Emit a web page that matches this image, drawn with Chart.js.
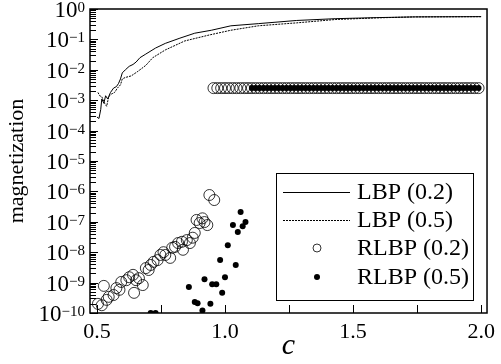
<!DOCTYPE html>
<html>
<head>
<meta charset="utf-8">
<script src="https://cdn.jsdelivr.net/npm/chart.js@4.4.0/dist/chart.umd.min.js"></script>
<style>
  html, body { margin: 0; padding: 0; background: #fff; }
</style>
</head>
<body>
<canvas id="chart" width="501" height="364"></canvas>
<script>
// LBP (0.2) - solid line
const lbp02C = [0.5, 0.508, 0.515, 0.519, 0.527, 0.534, 0.542, 0.553, 0.565, 0.576, 0.584, 0.592, 0.599, 0.611, 0.626, 0.641, 0.653, 0.668, 0.691, 0.729, 0.767, 0.824, 0.882, 0.947, 1.023, 1.13, 1.28, 1.43, 1.59, 1.74, 2.0];
const lbp02M = [2.8e-4, 2.5e-4, 5.0e-4, 1.1e-3, 7.9e-4, 1.4e-3, 1.1e-3, 1.8e-3, 2.5e-3, 2.8e-3, 3.5e-3, 5.0e-3, 7.9e-3, 1.0e-2, 1.3e-2, 1.5e-2, 1.8e-2, 2.5e-2, 3.3e-2, 5.2e-2, 7.4e-2, 0.11, 0.16, 0.20, 0.28, 0.33, 0.42, 0.48, 0.52, 0.55, 0.56];

// LBP (0.5) - dotted line
const lbp05C = [0.504, 0.511, 0.519, 0.53, 0.538, 0.546, 0.557, 0.569, 0.58, 0.592, 0.599, 0.611, 0.634, 0.66, 0.691, 0.718, 0.767, 0.843, 0.939, 1.023, 1.13, 1.28, 1.43, 1.59, 1.74, 2.0];
const lbp05M = [1.8e-3, 1.4e-3, 1.3e-3, 7.9e-4, 6.3e-4, 1.3e-3, 1.6e-3, 1.8e-3, 2.5e-3, 3.2e-3, 5.0e-3, 5.6e-3, 6.3e-3, 8.9e-3, 1.4e-2, 2.5e-2, 4.5e-2, 8.9e-2, 0.14, 0.20, 0.28, 0.35, 0.45, 0.51, 0.55, 0.56];

// RLBP (0.2) - open circles, scattered part
const rlbp02C = [0.504, 0.519, 0.527, 0.538, 0.546, 0.565, 0.576, 0.588, 0.595, 0.615, 0.626, 0.641, 0.645, 0.653, 0.664, 0.679, 0.691, 0.702, 0.710, 0.721, 0.737, 0.748, 0.760, 0.767, 0.786, 0.794, 0.805, 0.817, 0.832, 0.836, 0.851, 0.863, 0.874, 0.882, 0.889, 0.901, 0.912, 0.920, 0.931, 0.939, 0.958];
const rlbp02M = [2.0e-10, 1.8e-10, 7.8e-10, 2.7e-10, 3.4e-10, 3.9e-10, 6.6e-10, 5.8e-10, 1.05e-9, 1.2e-9, 1.5e-9, 1.8e-9, 4.6e-10, 1.2e-9, 1.4e-9, 8.3e-10, 3.0e-9, 2.6e-9, 3.8e-9, 4.8e-9, 5.5e-9, 8.1e-9, 1.0e-8, 8.1e-9, 6.5e-9, 1.4e-8, 1.5e-8, 2.0e-8, 2.2e-8, 1.2e-8, 2.5e-8, 2.0e-8, 3.0e-8, 4.3e-8, 1.15e-7, 9.1e-8, 1.3e-7, 9.8e-8, 7.8e-8, 7.6e-7, 5.2e-7];

// RLBP (0.5) - filled dots, scattered part
const rlbp05C = [0.710, 0.729, 0.859, 0.882, 0.893, 0.912, 0.920, 0.943, 0.950, 0.966, 0.981, 0.989, 1.000, 1.011, 1.031, 1.042, 1.050, 1.061, 1.069, 1.080];
const rlbp05M = [1.0e-10, 1.0e-10, 7.2e-10, 2.3e-10, 2.1e-10, 1.2e-10, 1.3e-9, 2.0e-10, 8.9e-10, 8.9e-10, 5.5e-9, 4.6e-10, 1.5e-9, 1.7e-8, 7.8e-8, 3.8e-9, 4.6e-8, 2.1e-7, 7.2e-8, 9.8e-8];

// plateau reached by both RLBP runs
const plateauC = [0.955, 0.97, 0.985, 1.0, 1.015, 1.03, 1.045, 1.06, 1.075, 1.09, 1.105, 1.12, 1.135, 1.15, 1.165, 1.18, 1.195, 1.21, 1.225, 1.24, 1.255, 1.27, 1.285, 1.3, 1.315, 1.33, 1.345, 1.36, 1.375, 1.39, 1.405, 1.42, 1.435, 1.45, 1.465, 1.48, 1.495, 1.51, 1.525, 1.54, 1.555, 1.57, 1.585, 1.6, 1.615, 1.63, 1.645, 1.66, 1.675, 1.69, 1.705, 1.72, 1.735, 1.75, 1.765, 1.78, 1.795, 1.81, 1.825, 1.84, 1.855, 1.87, 1.885, 1.9, 1.915, 1.93, 1.945, 1.96, 1.975, 1.99];
const plateauLevel = 2.5e-3;
const plateau05Start = 1.1;

const xTicks = [0.5, 0.75, 1.0, 1.25, 1.5, 1.75, 2.0];
const yExponents = [0, -1, -2, -3, -4, -5, -6, -7, -8, -9, -10];

const serif = "'Liberation Serif', 'Times New Roman', serif";

function pts(cs, ms) {
  return cs.map((c, i) => ({ x: c, y: ms[i] }));
}

const rlbp02Pts = pts(rlbp02C, rlbp02M).concat(plateauC.map(c => ({ x: c, y: plateauLevel })));
const rlbp05Pts = pts(rlbp05C, rlbp05M).concat(plateauC.filter(c => c >= plateau05Start).map(c => ({ x: c, y: plateauLevel })));

const legendItems = [
  { label: 'LBP (0.2)', kind: 'line', dash: [] },
  { label: 'LBP (0.5)', kind: 'line', dash: [2, 1] },
  { label: 'RLBP (0.2)', kind: 'open' },
  { label: 'RLBP (0.5)', kind: 'dot' }
];

const decorations = {
  id: 'decorations',
  afterDraw(chart) {
    const ctx = chart.ctx;
    const a = chart.chartArea;
    const x = chart.scales.x, y = chart.scales.y;
    ctx.save();
    ctx.strokeStyle = '#000';
    ctx.fillStyle = '#000';

    // inward ticks
    ctx.lineWidth = 1;
    ctx.beginPath();
    xTicks.forEach(v => {
      const px = Math.round(x.getPixelForValue(v)) + 0.5;
      ctx.moveTo(px, a.bottom);
      ctx.lineTo(px, a.bottom - 8);
    });
    yExponents.forEach(e => {
      for (let m = 1; m < 10; m++) {
        const v = m * Math.pow(10, e);
        if (v > 1.0001) break;
        const py = Math.round(y.getPixelForValue(v)) + 0.5;
        ctx.moveTo(a.left, py);
        ctx.lineTo(a.left + (m === 1 ? 8 : 6), py);
      }
    });
    ctx.stroke();

    // frame
    ctx.lineWidth = 1.5;
    ctx.strokeRect(a.left, a.top, a.right - a.left, a.bottom - a.top);

    // y tick labels 10^n
    ctx.textAlign = 'left';
    ctx.textBaseline = 'alphabetic';
    yExponents.forEach(e => {
      const py = y.getPixelForValue(Math.pow(10, e));
      const expText = e === 0 ? '0' : '\u2212' + Math.abs(e);
      ctx.font = '15px ' + serif;
      const ew = ctx.measureText(expText).width;
      ctx.font = '23px ' + serif;
      const bw = ctx.measureText('10').width;
      const right = a.left - 5;
      ctx.fillText('10', right - ew - bw, py + 8);
      ctx.font = '15px ' + serif;
      ctx.fillText(expText, right - ew, py + 3);
    });

    // legend
    const lx = a.left + 186, ly = a.top + 164, lw = 197, lh = 127;
    ctx.fillStyle = '#fff';
    ctx.fillRect(lx, ly, lw, lh);
    ctx.lineWidth = 1;
    ctx.strokeRect(lx + 0.5, ly + 0.5, lw, lh);
    const rows = [19, 47, 75, 104];
    ctx.font = '24px ' + serif;
    ctx.textBaseline = 'middle';
    legendItems.forEach((it, i) => {
      const ry = ly + rows[i];
      ctx.strokeStyle = '#000';
      ctx.fillStyle = '#000';
      if (it.kind === 'line') {
        ctx.lineWidth = 1;
        ctx.setLineDash(it.dash);
        ctx.beginPath();
        ctx.moveTo(lx + 7, ry + 0.5);
        ctx.lineTo(lx + 74, ry + 0.5);
        ctx.stroke();
        ctx.setLineDash([]);
      } else if (it.kind === 'open') {
        ctx.lineWidth = 0.8;
        ctx.beginPath();
        ctx.arc(lx + 41, ry, 4, 0, Math.PI * 2);
        ctx.stroke();
      } else {
        ctx.beginPath();
        ctx.arc(lx + 41, ry, 3, 0, Math.PI * 2);
        ctx.fill();
      }
      ctx.fillText(it.label, lx + 81, ry + 1);
    });
    ctx.restore();
  }
};

const ctx = document.getElementById('chart').getContext('2d');
new Chart(ctx, {
  type: 'scatter',
  data: {
    datasets: [
      {
        label: 'RLBP (0.5)',
        data: rlbp05Pts,
        pointRadius: 3,
        pointBorderWidth: 0,
        pointBackgroundColor: '#000',
        order: 0
      },
      {
        label: 'RLBP (0.2)',
        data: rlbp02Pts,
        pointRadius: 5.5,
        pointBorderWidth: 0.8,
        pointBorderColor: '#000',
        pointBackgroundColor: 'rgba(0,0,0,0)',
        order: 1
      },
      {
        label: 'LBP (0.2)',
        data: pts(lbp02C, lbp02M),
        showLine: true,
        pointRadius: 0,
        borderColor: '#000',
        borderWidth: 1,
        order: 2
      },
      {
        label: 'LBP (0.5)',
        data: pts(lbp05C, lbp05M),
        showLine: true,
        pointRadius: 0,
        borderColor: '#000',
        borderWidth: 1,
        borderDash: [2, 1],
        order: 3
      }
    ]
  },
  options: {
    responsive: false,
    animation: false,
    events: [],
    layout: { padding: { top: 9, right: 8, left: 0, bottom: 0 } },
    plugins: { legend: { display: false }, tooltip: { enabled: false } },
    scales: {
      x: {
        type: 'linear',
        min: 0.473,
        max: 2.023,
        afterFit(s) { s.height = 51; },
        afterBuildTicks(s) { s.ticks = xTicks.map(v => ({ value: v })); },
        ticks: {
          autoSkip: false,
          maxRotation: 0,
          padding: 6,
          color: '#000',
          font: { family: serif, size: 22 },
          callback: v => (Math.abs(v * 2 - Math.round(v * 2)) < 1e-6 ? v.toFixed(1) : '')
        },
        grid: { display: false, drawTicks: false },
        border: { display: false },
        title: {
          display: true,
          text: 'c',
          color: '#000',
          font: { family: serif, size: 30, style: 'italic' },
          padding: { top: 0, bottom: 0 }
        }
      },
      y: {
        type: 'logarithmic',
        min: 1e-10,
        max: 1,
        afterFit(s) { s.width = 90; },
        ticks: { display: false },
        grid: { display: false },
        border: { display: false },
        title: {
          display: true,
          text: 'magnetization',
          color: '#000',
          font: { family: serif, size: 22 },
          padding: { top: 4, bottom: 0 }
        }
      }
    }
  },
  plugins: [decorations]
});
</script>
</body>
</html>
